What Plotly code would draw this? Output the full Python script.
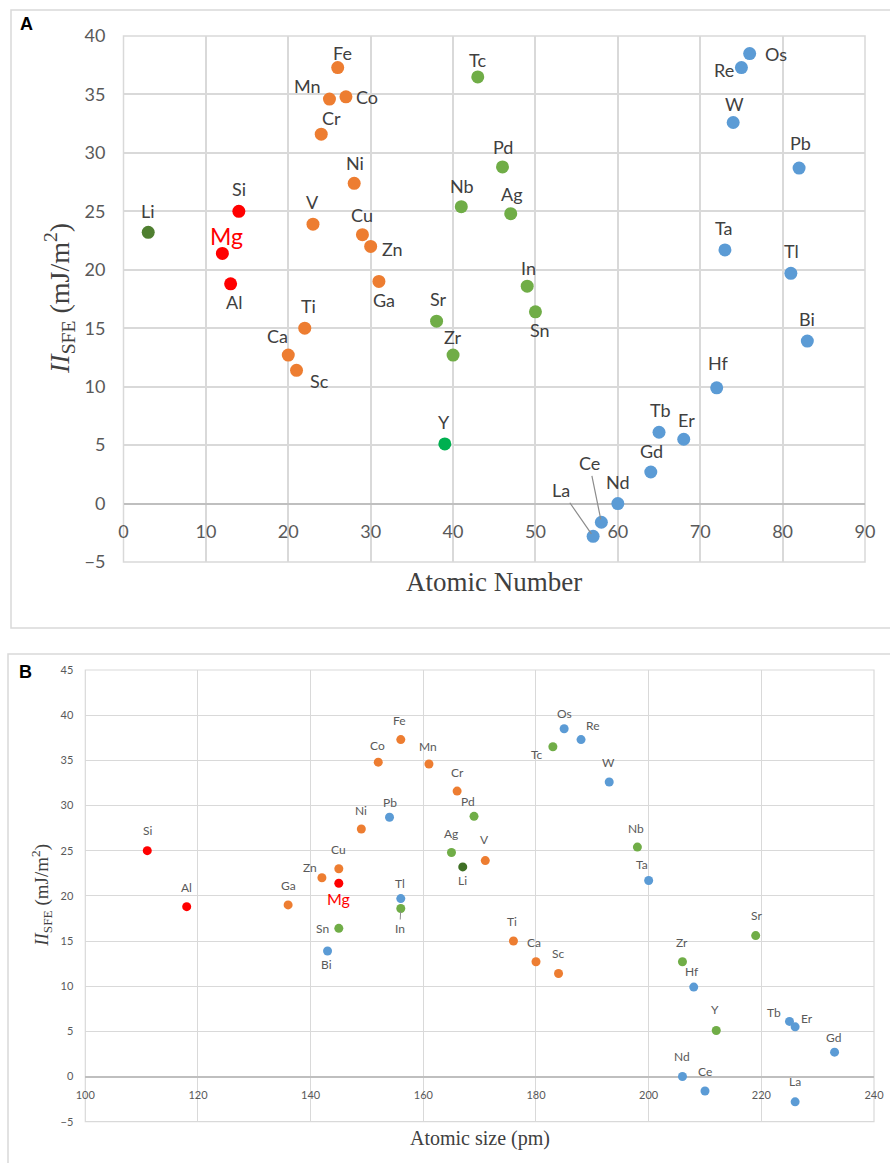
import plotly.graph_objects as go

# ---------------- data ----------------
elements = ["Li", "Mg", "Al", "Si", "Ca", "Sc", "Ti", "V", "Cr", "Mn", "Fe", "Co", "Ni", "Cu", "Zn", "Ga",
            "Sr", "Y", "Zr", "Nb", "Tc", "Pd", "Ag", "In", "Sn",
            "La", "Ce", "Nd", "Gd", "Tb", "Er", "Hf", "Ta", "W", "Re", "Os", "Tl", "Pb", "Bi"]
atomic_number = [3, 12, 13, 14, 20, 21, 22, 23, 24, 25, 26, 27, 28, 29, 30, 31,
                 38, 39, 40, 41, 43, 46, 47, 49, 50,
                 57, 58, 60, 64, 65, 68, 72, 73, 74, 75, 76, 81, 82, 83]
atomic_size = [167, 145, 118, 111, 180, 184, 176, 171, 166, 161, 156, 152, 149, 145, 142, 136,
               219, 212, 206, 198, 183, 169, 165, 156, 145,
               226, 210, 206, 233, 225, 226, 208, 200, 193, 188, 185, 156, 154, 143]
sfe = [23.2, 21.4, 18.8, 25.0, 12.7, 11.4, 15.0, 23.9, 31.6, 34.6, 37.3, 34.8, 27.4, 23.0, 22.0, 19.0,
       15.6, 5.1, 12.7, 25.4, 36.5, 28.8, 24.8, 18.6, 16.4,
       -2.8, -1.6, 0.0, 2.7, 6.1, 5.5, 9.9, 21.7, 32.6, 37.3, 38.5, 19.7, 28.7, 13.9]
group = ["alkali", "light", "light", "light"] + ["3d"] * 12 + \
        ["4d", "Y", "4d", "4d", "4d", "4d", "4d", "4d", "4d"] + ["5d"] * 14

xticks_a = list(range(0, 91, 10))
yticks_a = list(range(-5, 41, 5))
xticks_b = list(range(100, 241, 20))
yticks_b = list(range(-5, 46, 5))

# ---------------- style ----------------
W, H = 890, 1163
colors_a = {"alkali": "#4F7F30", "light": "#FF0000", "3d": "#ED7D31", "4d": "#70AD47",
            "Y": "#00B050", "5d": "#5B9BD5"}
colors_b = {"alkali": "#3F7025", "light": "#FF0000", "3d": "#ED7D31", "4d": "#70AD47",
            "Y": "#70AD47", "5d": "#5B9BD5"}

# label offsets in pixels (dx right, dy up)
off_a = {"Li": (0, 21), "Si": (0, 22), "Mg": (4, 17), "Al": (3, -18), "Fe": (5, 15), "Mn": (-22, 13),
         "Co": (21, 0), "Cr": (10, 16), "Ni": (1, 20), "V": (0, 22), "Cu": (0, 20), "Zn": (22, -3),
         "Ga": (5, -19), "Ti": (4, 22), "Ca": (-11, 19), "Sc": (23, -11), "Sr": (2, 22), "Y": (-1, 22),
         "Zr": (0, 18), "Sn": (5, -18), "Tc": (0, 17), "Pd": (1, 20), "Nb": (1, 21), "Ag": (1, 20),
         "In": (1, 18), "Os": (26, 0), "Re": (-17, -2), "W": (1, 19), "Pb": (1, 25), "Ta": (-1, 22),
         "Tl": (1, 22), "Bi": (0, 22), "Hf": (1, 25), "Tb": (1, 22), "Er": (3, 19), "Gd": (1, 21),
         "Nd": (0, 22), "Ce": (-12, 59), "La": (-32, 46)}
off_b = {"Si": (0, 20), "Al": (0, 19), "Ga": (0, 19), "Zn": (-12, 10), "Cu": (0, 19), "Mg": (0, -15),
         "Ni": (0, 19), "Pb": (0, 15), "Co": (-1, 17), "Fe": (-1, 19), "Mn": (-1, 17), "Tl": (-1, 15),
         "In": (-1, -20), "Sn": (-16, 0), "Bi": (-1, -14), "Cr": (0, 19), "Pd": (-6, 15), "Ag": (0, 19),
         "V": (-1, 21), "Li": (0, -14), "Tc": (-16, -8), "Os": (0, 15), "Re": (11, 14), "W": (-1, 20),
         "Nb": (-1, 19), "Ta": (-7, 16), "Ti": (-1, 20), "Ca": (-2, 19), "Sc": (-1, 20), "Zr": (0, 19),
         "Sr": (1, 20), "Hf": (-2, 16), "Y": (-1, 21), "Tb": (-16, 9), "Er": (12, 8), "Gd": (-1, 15),
         "Nd": (0, 20), "Ce": (0, 19), "La": (0, 20)}
leader_a = {"Ce", "La"}
leader_b = {"In"}

lab_font = "Lato"
grid_col = "#D9D9D9"

# domains (paper fractions)
xa_dom = [123.5 / W, 865 / W]
ya_dom = [1 - 562 / H, 1 - 36 / H]
xb_dom = [85.3 / W, 874 / W]
yb_dom = [1 - 1121.7 / H, 1 - 670 / H]

fig = go.Figure()

order = ["alkali", "light", "3d", "4d", "Y", "5d"]
for g in order:
    idx = [i for i, gg in enumerate(group) if gg == g]
    fig.add_trace(go.Scatter(
        x=[atomic_number[i] for i in idx], y=[sfe[i] for i in idx], mode="markers",
        marker=dict(size=13, color=colors_a[g]), xaxis="x", yaxis="y", showlegend=False,
        hoverinfo="text", text=[elements[i] for i in idx]))
    fig.add_trace(go.Scatter(
        x=[atomic_size[i] for i in idx], y=[sfe[i] for i in idx], mode="markers",
        marker=dict(size=9, color=colors_b[g]), xaxis="x2", yaxis="y2", showlegend=False,
        hoverinfo="text", text=[elements[i] for i in idx]))

annotations = []
for i, el in enumerate(elements):
    dx, dy = off_a[el]
    is_mg = el == "Mg"
    fcol = "#FF0000" if is_mg else "#404040"
    fsize = 23 if is_mg else 18
    if el in leader_a:
        annotations.append(dict(x=atomic_number[i], y=sfe[i], xref="x", yref="y", text=el,
                                showarrow=True, arrowhead=0, arrowwidth=1.2, arrowcolor="#8C8C8C",
                                ax=dx, ay=-dy, standoff=3,
                                font=dict(family=lab_font, size=fsize, color=fcol)))
    else:
        annotations.append(dict(x=atomic_number[i], y=sfe[i], xref="x", yref="y", text=el,
                                showarrow=False, xshift=dx, yshift=dy,
                                xanchor="center", yanchor="middle",
                                font=dict(family=lab_font, size=fsize, color=fcol)))
    dx, dy = off_b[el]
    fcol = "#FF0000" if is_mg else "#595959"
    fsize = 16 if is_mg else 12
    if el in leader_b:
        annotations.append(dict(x=atomic_size[i], y=sfe[i], xref="x2", yref="y2", text=el,
                                showarrow=True, arrowhead=0, arrowwidth=1, arrowcolor="#8C8C8C",
                                ax=dx, ay=-dy, standoff=3,
                                font=dict(family=lab_font, size=fsize, color=fcol)))
    else:
        annotations.append(dict(x=atomic_size[i], y=sfe[i], xref="x2", yref="y2", text=el,
                                showarrow=False, xshift=dx, yshift=dy,
                                xanchor="center", yanchor="middle",
                                font=dict(family=lab_font, size=fsize, color=fcol)))

serif = "Liberation Serif"
paper_txt = dict(xref="paper", yref="paper", showarrow=False, xanchor="center", yanchor="middle")
# axis titles and panel letters
annotations += [
    dict(x=(xa_dom[0] + xa_dom[1]) / 2, y=1 - 582 / H, text="Atomic Number",
         font=dict(family=serif, size=27, color="#404040"), **paper_txt),
    dict(x=59 / W, y=(ya_dom[0] + ya_dom[1]) / 2, textangle=-90,
         text="<i>II</i><sub>SFE</sub> (mJ/m<sup>2</sup>)",
         font=dict(family=serif, size=28, color="#404040"), **paper_txt),
    dict(x=(xb_dom[0] + xb_dom[1]) / 2, y=1 - 1138 / H, text="Atomic size (pm)",
         font=dict(family=serif, size=20, color="#404040"), **paper_txt),
    dict(x=42 / W, y=(yb_dom[0] + yb_dom[1]) / 2, textangle=-90,
         text="<i>II</i><sub>SFE</sub> (mJ/m<sup>2</sup>)",
         font=dict(family=serif, size=19, color="#404040"), **paper_txt),
    dict(x=26 / W, y=1 - 24 / H, text="<b>A</b>",
         font=dict(family="Liberation Sans", size=18, color="#000000"), **paper_txt),
    dict(x=25 / W, y=1 - 672 / H, text="<b>B</b>",
         font=dict(family="Liberation Sans", size=18, color="#000000"), **paper_txt),
]

ya_rng = [yticks_a[0], yticks_a[-1]]
yb_rng = [yticks_b[0], yticks_b[-1]]
pos_a = ya_dom[0] + (0 - ya_rng[0]) / (ya_rng[1] - ya_rng[0]) * (ya_dom[1] - ya_dom[0])
pos_b = yb_dom[0] + (0 - yb_rng[0]) / (yb_rng[1] - yb_rng[0]) * (yb_dom[1] - yb_dom[0])

shapes = [
    # panel frames
    dict(type="rect", xref="paper", yref="paper", x0=11 / W, x1=1.01, y0=1 - 628 / H, y1=1 - 10 / H,
         line=dict(color="#D9D9D9", width=1.5), fillcolor="rgba(0,0,0,0)", layer="below"),
    dict(type="rect", xref="paper", yref="paper", x0=8 / W, x1=1.01, y0=-0.01, y1=1 - 654 / H,
         line=dict(color="#D9D9D9", width=1.5), fillcolor="rgba(0,0,0,0)", layer="below"),
    # plot-area borders
    dict(type="rect", xref="x domain", yref="y domain", x0=0, x1=1, y0=0, y1=1,
         line=dict(color=grid_col, width=1.5), layer="below"),
    dict(type="rect", xref="x2 domain", yref="y2 domain", x0=0, x1=1, y0=0, y1=1,
         line=dict(color=grid_col, width=1.2), layer="below"),
]

tick_a = dict(family=lab_font, size=18, color="#595959")
tick_b = dict(family=lab_font, size=11, color="#595959")

fig.update_layout(
    width=W, height=H, margin=dict(l=0, r=0, t=0, b=0, autoexpand=False),
    paper_bgcolor="white", plot_bgcolor="white",
    annotations=annotations, shapes=shapes,
    xaxis=dict(domain=xa_dom, range=[xticks_a[0], xticks_a[-1]], tickvals=xticks_a, automargin=False,
               anchor="free", position=pos_a, showgrid=True, gridcolor=grid_col, gridwidth=1.5,
               zeroline=False, showline=False, ticks="", tickfont=tick_a, ticklabelstandoff=15),
    yaxis=dict(domain=ya_dom, range=ya_rng, tickvals=yticks_a, anchor="x", automargin=False,
               showgrid=True, gridcolor=grid_col, gridwidth=1.5,
               zeroline=True, zerolinecolor="#BFBFBF", zerolinewidth=2, showline=False, ticks="",
               tickfont=tick_a, ticklabelstandoff=17),
    xaxis2=dict(domain=xb_dom, range=[xticks_b[0], xticks_b[-1]], tickvals=xticks_b, automargin=False,
                anchor="free", position=pos_b, showgrid=True, gridcolor=grid_col, gridwidth=1.2,
                zeroline=False, showline=False, ticks="", tickfont=tick_b, ticklabelstandoff=10),
    yaxis2=dict(domain=yb_dom, range=yb_rng, tickvals=yticks_b, anchor="x2", automargin=False,
                showgrid=True, gridcolor=grid_col, gridwidth=1.2,
                zeroline=True, zerolinecolor="#BFBFBF", zerolinewidth=1.8, showline=False, ticks="",
                tickfont=tick_b, ticklabelstandoff=11),
)

fig.write_html("out.html", config={"displayModeBar": False},
               post_script="document.body.style.margin='0';document.body.style.overflow='hidden';")
